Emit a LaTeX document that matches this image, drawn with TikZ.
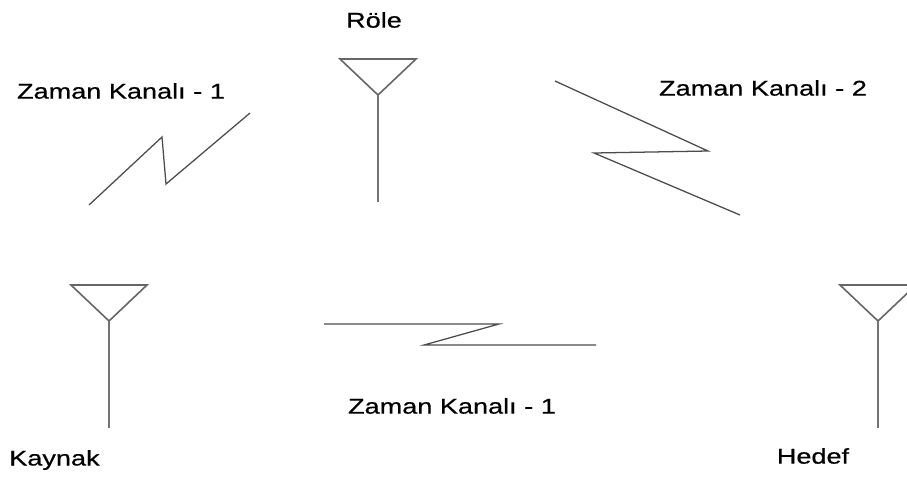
\documentclass[tikz,border=0pt]{standalone}
\usepackage{fontspec}
\setmainfont{Liberation Sans}
\newfontfamily\lblfont[FakeStretch=1.27,FakeBold=0.6]{Liberation Sans}
\tikzset{
  lbl/.style={inner sep=0pt,font=\lblfont\fontsize{16}{19}\selectfont,text=black},
  ant/.style={draw=black!60,line width=1.2pt,line join=miter},
  mast/.style={draw=black!55,line width=1.6pt},
  bolt/.style={draw=black!70,line width=0.95pt,line join=miter}
}
\newcommand{\antenna}[3]{%
 \coordinate (#1tl) at (#2-38,#3+0);
 \coordinate (#1tr) at (#2+38,#3+0);
 \coordinate (#1m) at (#2,#3-36);
 \coordinate (#1b) at (#2,#3-143);
 \draw[ant] (#1tl) -- (#1tr) -- (#1m) -- cycle;
 \draw[mast] (#1m) -- (#1b);}
\begin{document}
\begin{tikzpicture}[x=0.75pt,y=-0.75pt]
\useasboundingbox (0,0) rectangle (907,480);
\fill[white] (0,0) rectangle (907,480);
\begin{scope}[yscale=-1]
\antenna{r}{378}{-59}
\antenna{k}{109}{-285}
\antenna{h}{878}{-285}
\end{scope}
\draw[bolt] (89,205) -- (162,137) -- (166,184) -- (250,113);
\draw[bolt] (555,81) -- (708,151) -- (594,153) -- (740,215);
\draw[bolt] (324,324) -- (499,324) -- (424,345) -- (596,345);
\node[lbl] (role) at (374,20) {Röle};
\node[lbl] (z1) at (121,91) {Zaman Kanalı - 1};
\node[lbl] (z2) at (763,88) {Zaman Kanalı - 2};
\node[lbl] (z3) at (452,406) {Zaman Kanalı - 1};
\node[lbl,anchor=west] (kay) at (9,460) {Kaynak};
\node[lbl] (hed) at (813,456) {Hedef};
\end{tikzpicture}
\end{document}
